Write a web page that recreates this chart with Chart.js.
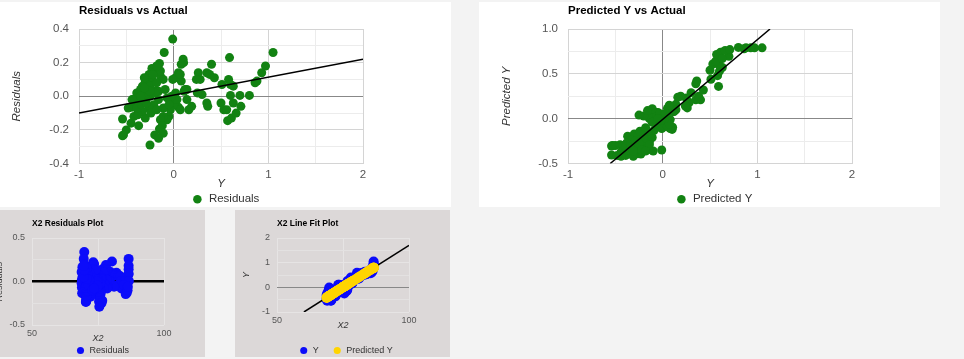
<!DOCTYPE html>
<html>
<head>
<meta charset="utf-8">
<script src="https://cdn.jsdelivr.net/npm/chart.js@4.4.1/dist/chart.umd.min.js"></script>
<style>
  body { margin: 0; background: #f3f3f3; width: 964px; height: 359px; overflow: hidden; position: relative; }
  .panel { position: absolute; overflow: hidden; }
  .panel canvas { position: absolute; top: 0; }
</style>
</head>
<body>
<div class="panel" style="left:0;top:2px;width:451px;height:205px;background:#fff">
  <canvas id="residActual" width="451" height="213" style="left:0"></canvas>
</div>
<div class="panel" style="left:479px;top:2px;width:461px;height:205px;background:#fff">
  <canvas id="predActual" width="461" height="213" style="left:0"></canvas>
</div>
<div class="panel" style="left:0;top:210px;width:205px;height:147px;background:#dcd8d8">
  <canvas id="x2Resid" width="213" height="155" style="left:-8px"></canvas>
</div>
<div class="panel" style="left:235px;top:210px;width:215px;height:147px;background:#dcd8d8">
  <canvas id="x2Fit" width="215" height="155" style="left:0"></canvas>
</div>
<script>
const actualY = [-0.01,-0.10,0.10,0.105,0.08,0.59,1.05,0.97,0.93,0.86,
  0.88,0.40,0.26,0.35,0.38,0.43,0.28,0.24,0.58,0.51,
  0.60,0.63,0.60,0.70,0.80,0.50,0.53,0.56,0.57,0.61,
  0.63,0.66,0.71,0.35,0.36,0.30,0.25,0.19,0.16,0.14,
  0.08,0.02,-0.01,0.05,0.07,0.12,0.14,0.11,0.05,0.07,
  0.0,-0.035,-0.05,-0.07,-0.11,-0.14,-0.12,-0.15,-0.11,-0.20,
  -0.16,-0.25,-0.54,-0.50,-0.54,-0.53,-0.37,-0.30,-0.45,-0.42,
  -0.15,-0.23,-0.19,-0.26,-0.14,-0.23,-0.30,-0.28,-0.33,-0.35,
  -0.39,-0.42,-0.40,-0.44,-0.32,-0.25,-0.19,-0.16,-0.11,-0.09,
  -0.16,-0.21,-0.26,-0.33,-0.38,-0.30,-0.35,-0.27,-0.31,-0.25,
  -0.18,-0.14,-0.07,-0.035,0.02,0.035,-0.02,-0.11,-0.05,-0.44,
  -0.48,-0.39,-0.34,-0.29,-0.24,-0.18,-0.20,-0.25,-0.31,-0.22,
  -0.18];

const residuals = [0.34,0.26,0.22,0.20,0.19,0.23,0.26,0.18,0.14,0.08,
  0.09,0.19,0.14,0.14,0.13,0.11,0.10,0.10,0.10,0.07,
  0.07,0.06,0.005,0.005,0.005,-0.04,-0.08,-0.08,-0.145,-0.13,
  -0.04,-0.10,-0.06,-0.04,-0.06,0.01,0.02,-0.06,-0.08,-0.02,
  0.09,0.11,0.10,0.14,0.13,0.04,0.04,0.03,-0.065,-0.08,
  -0.05,-0.08,-0.12,-0.14,-0.12,-0.14,-0.175,-0.195,-0.22,-0.23,
  -0.25,-0.29,-0.135,-0.20,-0.235,-0.23,-0.175,-0.13,-0.16,-0.12,
  0.195,0.165,0.15,0.13,0.12,0.10,0.09,0.07,0.06,0.04,
  0.02,-0.02,-0.04,-0.065,-0.02,0.0,0.03,0.03,0.10,0.04,
  -0.02,-0.05,-0.07,-0.09,-0.11,0.01,0.0,0.04,0.11,0.06,
  0.08,0.15,-0.01,-0.03,0.02,-0.02,0.0,-0.07,-0.05,-0.02,
  -0.07,-0.07,-0.05,-0.04,-0.10,-0.08,0.02,0.03,0.05,0.13,
  0.18];

const predictedY = [-0.35,-0.36,-0.12,-0.095,-0.11,0.36,0.79,0.79,0.79,0.78,
  0.79,0.21,0.12,0.21,0.25,0.32,0.18,0.14,0.48,0.44,
  0.53,0.57,0.595,0.695,0.795,0.54,0.61,0.64,0.715,0.74,
  0.67,0.76,0.77,0.39,0.42,0.29,0.23,0.25,0.24,0.16,
  -0.01,-0.09,-0.11,-0.09,-0.06,0.08,0.10,0.08,0.115,0.15,
  0.05,0.045,0.07,0.07,0.01,0.0,0.055,0.045,0.11,0.03,
  0.09,0.04,-0.405,-0.30,-0.305,-0.30,-0.195,-0.17,-0.29,-0.30,
  -0.345,-0.395,-0.34,-0.39,-0.26,-0.33,-0.39,-0.35,-0.39,-0.39,
  -0.41,-0.40,-0.36,-0.375,-0.30,-0.25,-0.22,-0.19,-0.21,-0.13,
  -0.14,-0.16,-0.19,-0.24,-0.27,-0.31,-0.35,-0.31,-0.42,-0.31,
  -0.26,-0.29,-0.06,-0.005,0.0,0.055,-0.02,-0.04,0.0,-0.42,
  -0.41,-0.32,-0.29,-0.25,-0.14,-0.10,-0.22,-0.28,-0.36,-0.35,
  -0.36];

const x2 = [69.8,69.6,73.2,73.5,73.3,80.3,86.6,86.6,86.6,86.5,
  86.6,78.0,76.7,78.0,78.6,79.7,77.6,77.0,82.0,81.4,
  82.8,83.4,83.7,85.2,86.7,82.9,83.9,84.4,85.5,85.9,
  84.8,86.2,86.3,80.7,81.1,79.2,78.3,78.6,78.5,77.3,
  74.8,73.6,73.3,73.6,74.1,76.1,76.4,76.1,76.6,77.2,
  75.7,75.6,76.0,76.0,75.1,74.9,75.8,75.6,76.6,75.4,
  76.3,75.5,69.0,70.5,70.4,70.5,72.1,72.4,70.7,70.5,
  69.9,69.1,69.9,69.2,71.1,70.1,69.2,69.8,69.2,69.2,
  68.9,69.0,69.6,69.4,70.5,71.3,71.7,72.1,71.9,73.0,
  72.9,72.6,72.1,71.4,71.0,70.4,69.8,70.4,68.8,70.4,
  71.1,70.7,74.1,74.9,74.9,75.8,74.7,74.4,74.9,68.8,
  68.9,70.2,70.7,71.3,72.9,73.5,71.7,70.8,69.6,69.8,
  69.6];

// trend line end points
const residTrendX = [-1, 2];
const residTrendY = [-0.1, 0.22];
const predTrendX = [-0.554, 1.134];
const predTrendY = [-0.5, 1.0];
const fitLineX = [60.2, 100];
const fitLineY = [-1, 1.7];

const FONT = '"Liberation Sans", Arial, sans-serif';
const GREEN = "rgb(18,130,18)";
const BLUE = "rgb(12,12,250)";
const YELLOW = "rgb(255,212,0)";

Chart.defaults.font.family = FONT;
Chart.defaults.animation = false;
Chart.defaults.plugins.tooltip.enabled = false;

// title drawn over the left edge of the plot area, legend centred on the panel
Chart.register({
  id: "panelBits",
  afterLayout(chart, args, opts) {
    if (opts && opts.legendSpan && chart.legend) {
      chart.legend.left = opts.legendSpan[0];
      chart.legend.right = opts.legendSpan[1];
      chart.legend.width = opts.legendSpan[1] - opts.legendSpan[0];
    }
  },
  afterDraw(chart, args, opts) {
    if (!opts || !opts.text) return;
    const c = chart.ctx;
    c.save();
    c.font = "bold " + opts.size + "px " + FONT;
    c.fillStyle = "#000";
    c.textBaseline = "middle";
    c.fillText(opts.text, chart.chartArea.left, opts.y);
    c.restore();
  }
});

function pairs(xs, ys) {
  return xs.map((x, i) => ({ x: x, y: ys[i] }));
}

function isMultiple(v, m) {
  return Math.abs(v / m - Math.round(v / m)) < 1e-6;
}

function linScale(o) {
  return {
    type: "linear",
    min: o.min,
    max: o.max,
    afterFit: o.fit,
    border: { display: false },
    grid: {
      drawTicks: false,
      color: (ctx) => {
        const v = ctx.tick ? ctx.tick.value : 1;
        if (Math.abs(v) < 1e-9 && o.zeroColor) return o.zeroColor;
        return isMultiple(v, o.labelStep) ? o.majorColor : o.minorColor;
      },
      lineWidth: (ctx) => {
        const v = ctx.tick ? ctx.tick.value : 1;
        return Math.abs(v) < 1e-9 && o.zeroWidth ? o.zeroWidth : 1;
      }
    },
    ticks: {
      stepSize: o.step,
      padding: o.pad,
      color: "#555",
      font: { size: o.size },
      autoSkip: false,
      maxRotation: 0,
      callback: (v) => (isMultiple(v, o.labelStep) ? o.fmt(v) : "")
    },
    title: {
      display: true,
      text: o.title,
      color: "#333",
      font: { size: o.size, style: "italic" },
      padding: o.titlePad
    }
  };
}

function legendOpts(size, boxW, boxH, pad) {
  return {
    position: "bottom",
    labels: {
      usePointStyle: true,
      pointStyle: "circle",
      boxWidth: boxW,
      boxHeight: boxH,
      padding: pad,
      color: "#333",
      font: { size: size },
      filter: (item) => item.text !== "",
      sort: (a, b) => a.datasetIndex - b.datasetIndex
    }
  };
}

function trendSet(xs, ys, width, order) {
  return {
    label: "",
    data: pairs(xs, ys),
    showLine: true,
    borderColor: "#000",
    borderWidth: width,
    pointRadius: 0,
    order: order
  };
}

const fmt1 = (v) => v.toFixed(1);
const fmt0 = (v) => String(Math.round(v));

// Residuals vs Actual
new Chart(document.getElementById("residActual"), {
  type: "scatter",
  data: {
    datasets: [
      { label: "Residuals", data: pairs(actualY, residuals), backgroundColor: GREEN, borderColor: GREEN,
        pointRadius: 4.5, borderWidth: 0, order: 1 },
      trendSet(residTrendX, residTrendY, 1.5, 0)
    ]
  },
  options: {
    responsive: false,
    layout: { padding: { left: 6, right: 88, top: 27, bottom: 0 } },
    scales: {
      x: linScale({ min: -1, max: 2, step: 0.5, labelStep: 1, fmt: fmt0, size: 11.5, pad: 4,
        title: "Y", titlePad: { top: 0, bottom: 1 }, majorColor: "#d4d4d4", minorColor: "#ececec",
        zeroColor: "#888", fit: (s) => { s.height = 28; } }),
      y: linScale({ min: -0.4, max: 0.4, step: 0.1, labelStep: 0.2, fmt: fmt1, size: 11.5, pad: 10,
        title: "Residuals", titlePad: { top: 4, bottom: 4 }, majorColor: "#d4d4d4", minorColor: "#ececec",
        zeroColor: "#888", fit: (s) => { s.width = 73; } })
    },
    plugins: {
      legend: legendOpts(11.5, 24, 6, 2),
      panelBits: { text: "Residuals vs Actual", size: 11.5, y: 9, legendSpan: [0, 451] }
    }
  }
});

// Predicted Y vs Actual
new Chart(document.getElementById("predActual"), {
  type: "scatter",
  data: {
    datasets: [
      { label: "Predicted Y", data: pairs(actualY, predictedY), backgroundColor: GREEN, borderColor: GREEN,
        pointRadius: 4.5, borderWidth: 0, order: 1 },
      trendSet(predTrendX, predTrendY, 1.5, 0)
    ]
  },
  options: {
    responsive: false,
    layout: { padding: { left: 17, right: 88, top: 27, bottom: 0 } },
    scales: {
      x: linScale({ min: -1, max: 2, step: 0.5, labelStep: 1, fmt: fmt0, size: 11.5, pad: 4,
        title: "Y", titlePad: { top: 0, bottom: 1 }, majorColor: "#d4d4d4", minorColor: "#ececec",
        zeroColor: "#888", fit: (s) => { s.height = 28; } }),
      y: linScale({ min: -0.5, max: 1, step: 0.25, labelStep: 0.5, fmt: fmt1, size: 11.5, pad: 10,
        title: "Predicted Y", titlePad: { top: 4, bottom: 4 }, majorColor: "#d4d4d4", minorColor: "#ececec",
        zeroColor: "#888", fit: (s) => { s.width = 72; } })
    },
    plugins: {
      legend: legendOpts(11.5, 24, 6, 2),
      panelBits: { text: "Predicted Y vs Actual", size: 11.5, y: 9, legendSpan: [0, 470] }
    }
  }
});

// X2 Residuals Plot
new Chart(document.getElementById("x2Resid"), {
  type: "scatter",
  data: {
    datasets: [
      { label: "Residuals", data: pairs(x2, residuals), backgroundColor: BLUE, borderColor: BLUE,
        pointRadius: 5, borderWidth: 0 }
    ]
  },
  options: {
    responsive: false,
    layout: { padding: { left: 0, right: 41, top: 28, bottom: 0 } },
    scales: {
      x: linScale({ min: 50, max: 100, step: 25, labelStep: 50, fmt: fmt0, size: 9, pad: 3,
        title: "X2", titlePad: { top: 0, bottom: 1 }, majorColor: "#e6e4e4", minorColor: "#e6e4e4",
        fit: (s) => { s.height = 20; } }),
      y: linScale({ min: -0.5, max: 0.5, step: 0.25, labelStep: 0.5, fmt: fmt1, size: 9, pad: 7,
        title: "Residuals", titlePad: { top: 2, bottom: 2 }, majorColor: "#e6e4e4", minorColor: "#e3e1e1",
        zeroColor: "#000", zeroWidth: 2.5, fit: (s) => { s.width = 40; } })
    },
    plugins: {
      legend: legendOpts(9, 16, 5, 1),
      panelBits: { text: "X2 Residuals Plot", size: 8.5, y: 14, legendSpan: [8, 213] }
    }
  }
});

// X2 Line Fit Plot
new Chart(document.getElementById("x2Fit"), {
  type: "scatter",
  data: {
    datasets: [
      { label: "Y", data: pairs(x2, actualY), backgroundColor: BLUE, borderColor: BLUE,
        pointRadius: 5, borderWidth: 0, order: 2 },
      { label: "Predicted Y", data: pairs(x2, predictedY), backgroundColor: YELLOW, borderColor: YELLOW,
        pointRadius: 5, borderWidth: 0, order: 0 },
      trendSet(fitLineX, fitLineY, 1.5, 1)
    ]
  },
  options: {
    responsive: false,
    layout: { padding: { left: 4, right: 41, top: 28, bottom: 0 } },
    scales: {
      x: linScale({ min: 50, max: 100, step: 25, labelStep: 50, fmt: fmt0, size: 9, pad: 3,
        title: "X2", titlePad: { top: 0, bottom: 1 }, majorColor: "#e6e4e4", minorColor: "#e6e4e4",
        fit: (s) => { s.height = 20; } }),
      y: linScale({ min: -1, max: 2, step: 0.5, labelStep: 1, fmt: fmt0, size: 9, pad: 7,
        title: "Y", titlePad: { top: 2, bottom: 2 }, majorColor: "#e6e4e4", minorColor: "#e3e1e1",
        zeroColor: "#888", fit: (s) => { s.width = 38; } })
    },
    plugins: {
      legend: legendOpts(9, 16, 5, 14),
      panelBits: { text: "X2 Line Fit Plot", size: 8.5, y: 14, legendSpan: [0, 222] }
    }
  }
});
</script>
</body>
</html>
